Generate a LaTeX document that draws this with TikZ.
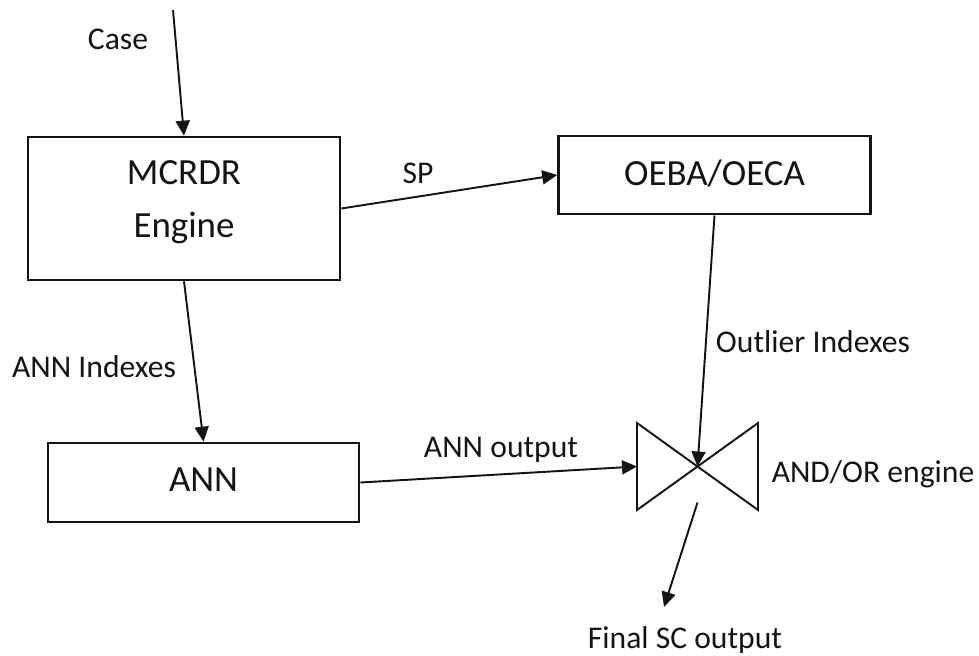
\documentclass[tikz,border=0pt]{standalone}
\usepackage{fontspec}
\setmainfont{Carlito}
\usepackage{tikz}
\usetikzlibrary{
  arrows.meta,
  positioning,
  calc
}
\definecolor{bdInk}{HTML}{141414}
\tikzset{
  bdnode/.style={
    draw=bdInk, line width=1.5pt, inner sep=0pt, align=center,
    font=\fontsize{21}{29.6}\selectfont, text=bdInk
  },
  engine/.style={bdnode, minimum width=62.4mm, minimum height=28.6mm, text height=15.2mm, text depth=3.8mm},
  detector/.style={bdnode, minimum width=62.4mm, minimum height=15.6mm, text depth=0.8mm},
  network/.style={bdnode, minimum width=62.2mm, minimum height=15.8mm, text depth=1.2mm},
  gatebox/.style={inner sep=0pt, outer sep=0pt, minimum width=24.2mm, minimum height=17.4mm},
  gateline/.style={draw=bdInk, line width=1.1pt, line join=miter},
  flow/.style={-{Triangle[length=3mm, width=2.8mm]}, line width=1.1pt, bdInk},
  tag/.style={font=\fontsize{18}{22}\selectfont, text=bdInk, inner sep=0pt, anchor=base}
}

\begin{document}
\begin{tikzpicture}[x=0.2mm, y=-0.2mm]
  \useasboundingbox (0,0) rectangle (979,655);
  % blocks
  \node[engine] (mcrdr) at (184,208.5) {MCRDR\\Engine};
  \node[detector] (oeba) at (714.5,175) {OEBA/OECA};
  \node[network] (ann) at (203.5,482.5) {ANN};
  \node[gatebox] (gate) at (697.5,466.5) {};
  \draw[gateline] (gate.north west) -- (gate.south west) -- (gate.north east) -- (gate.south east) -- cycle;
  % free ends
  \coordinate (casein) at (173,10);
  \coordinate (scout) at (664,607);
  % connectors
  \draw[flow] (casein) -- (mcrdr.north);
  \draw[flow] (mcrdr.east) -- (oeba.west);
  \draw[flow] (mcrdr.south) -- (ann.north);
  \draw[flow] (oeba.south) -- (gate.center);
  \draw[flow] (ann.east) -- (gate.west);
  \draw[flow] ($(gate.center)+(0,36)$) -- (scout);
  % labels
  \node[tag] (caselbl) at (118,50) {Case};
  \node[tag] (splbl) at (418,184) {SP};
  \node[tag] (annidx) at (94,377) {ANN Indexes};
  \node[tag] (outidx) at (813,352) {Outlier Indexes};
  \node[tag] (annout) at (501,457) {ANN output};
  \node[tag] (andor) at (873,482) {AND/OR engine};
  \node[tag] (final) at (685,648) {Final SC output};
\end{tikzpicture}
\end{document}
